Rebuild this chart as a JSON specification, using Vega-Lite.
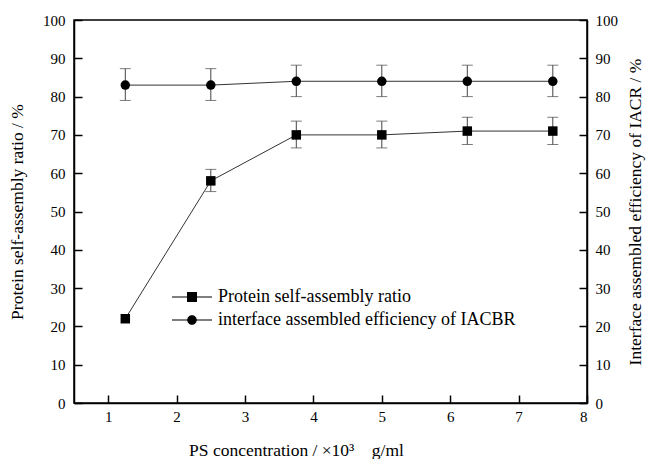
{
  "$schema": "https://vega.github.io/schema/vega-lite/v6.json",
  "width": 513,
  "height": 383,
  "autosize": {"type": "none"},
  "padding": {"left": 74, "top": 20, "right": 59, "bottom": 56},
  "background": "white",
  "config": {
    "view": {"stroke": "black", "strokeWidth": 1.5},
    "font": "Liberation Serif",
    "axis": {
      "grid": false,
      "domainColor": "black",
      "domainWidth": 1.5,
      "tickColor": "black",
      "tickWidth": 1.5,
      "tickSize": -8,
      "labelFont": "Liberation Serif",
      "labelFontSize": 15,
      "labelColor": "black",
      "titleFont": "Liberation Serif",
      "titleFontSize": 17.5,
      "titleFontWeight": "normal",
      "titleColor": "black"
    },
    "legend": {
      "labelFont": "Liberation Serif"
    }
  },
  "data": {
    "values": [
      {"series": "Protein self-assembly ratio", "x": 1.25, "v": 22, "lo": null, "hi": null},
      {"series": "Protein self-assembly ratio", "x": 2.5, "v": 58, "lo": 55.2, "hi": 61},
      {"series": "Protein self-assembly ratio", "x": 3.75, "v": 70, "lo": 66.6, "hi": 73.6},
      {"series": "Protein self-assembly ratio", "x": 5, "v": 70, "lo": 66.6, "hi": 73.6},
      {"series": "Protein self-assembly ratio", "x": 6.25, "v": 71, "lo": 67.5, "hi": 74.6},
      {"series": "Protein self-assembly ratio", "x": 7.5, "v": 71, "lo": 67.5, "hi": 74.6},
      {"series": "interface assembled efficiency of IACBR", "x": 1.25, "v": 83, "lo": 79, "hi": 87.3},
      {"series": "interface assembled efficiency of IACBR", "x": 2.5, "v": 83, "lo": 79, "hi": 87.3},
      {"series": "interface assembled efficiency of IACBR", "x": 3.75, "v": 84, "lo": 80, "hi": 88.2},
      {"series": "interface assembled efficiency of IACBR", "x": 5, "v": 84, "lo": 80, "hi": 88.2},
      {"series": "interface assembled efficiency of IACBR", "x": 6.25, "v": 84, "lo": 80, "hi": 88.2},
      {"series": "interface assembled efficiency of IACBR", "x": 7.5, "v": 84, "lo": 80, "hi": 88.2}
    ]
  },
  "layer": [
    {
      "transform": [{"filter": "datum.lo != null"}],
      "mark": {"type": "errorbar", "ticks": true, "size": 11, "thickness": 1, "color": "#444"},
      "encoding": {
        "x": {
          "field": "x", "type": "quantitative",
          "scale": {"domain": [0.5, 8], "nice": false, "zero": false},
          "axis": {"values": [1, 2, 3, 4, 5, 6, 7, 8], "format": "d", "title": "PS concentration / ×10³\u2003g/ml", "titleX": 222, "titleAlign": "center", "labelPadding": 14, "titlePadding": 17}
        },
        "y": {
          "field": "lo", "type": "quantitative",
          "scale": {"domain": [0, 100], "nice": false},
          "axis": {"orient": "left", "title": "Protein self-assembly ratio / %", "values": [0, 10, 20, 30, 40, 50, 60, 70, 80, 90, 100], "labelPadding": 17, "titlePadding": 16}
        },
        "y2": {"field": "hi"},
        "detail": {"field": "series"}
      }
    },
    {
      "mark": {"type": "line", "color": "#333", "strokeWidth": 1},
      "encoding": {
        "x": {"field": "x", "type": "quantitative", "scale": {"domain": [0.5, 8], "nice": false, "zero": false}},
        "y": {"field": "v", "type": "quantitative", "scale": {"domain": [0, 100], "nice": false}, "axis": null},
        "detail": {"field": "series"}
      }
    },
    {
      "mark": {"type": "point", "filled": true, "opacity": 1, "color": "black", "size": 90},
      "encoding": {
        "x": {"field": "x", "type": "quantitative", "scale": {"domain": [0.5, 8], "nice": false, "zero": false}},
        "y": {
          "field": "v", "type": "quantitative",
          "scale": {"domain": [0, 100], "nice": false},
          "axis": {"orient": "right", "title": "Interface assembled efficiency of IACR / %", "titleAngle": -90, "values": [0, 10, 20, 30, 40, 50, 60, 70, 80, 90, 100], "labelPadding": 16, "titlePadding": 27}
        },
        "shape": {
          "field": "series", "type": "nominal",
          "scale": {"domain": ["Protein self-assembly ratio", "interface assembled efficiency of IACBR"], "range": ["square", "circle"]},
          "legend": null
        }
      }
    },
    {
      "transform": [{"filter": "false"}],
      "mark": {"type": "point", "filled": true, "color": "black", "opacity": 1, "size": 100},
      "encoding": {
        "x": {"field": "x", "type": "quantitative", "scale": {"domain": [0.5, 8], "nice": false, "zero": false}},
        "y": {"field": "v", "type": "quantitative", "scale": {"domain": [0, 100], "nice": false}, "axis": null},
        "shape": {
          "field": "series", "type": "nominal",
          "scale": {"domain": ["Protein self-assembly ratio", "interface assembled efficiency of IACBR"], "range": ["M-4,-0.1H4V0.1H-4ZM-1,-1H1V1H-1Z", "M-4,-0.1H4V0.1H-4ZM-0.95,0A0.95,0.95 0 1,1 0.95,0A0.95,0.95 0 1,1 -0.95,0Z"]},
          "legend": {
            "title": null,
            "orient": "none",
            "legendX": 109,
            "legendY": 268,
            "labelFontSize": 18,
            "labelColor": "black",
            "labelOffset": 17,
            "labelLimit": 400,
            "rowPadding": 5,
            "symbolSize": 100,
            "symbolFillColor": "black"
          }
        }
      }
    }
  ],
  "resolve": {"scale": {"y": "independent", "shape": "independent"}, "axis": {"y": "independent"}, "legend": {"shape": "independent"}}
}
